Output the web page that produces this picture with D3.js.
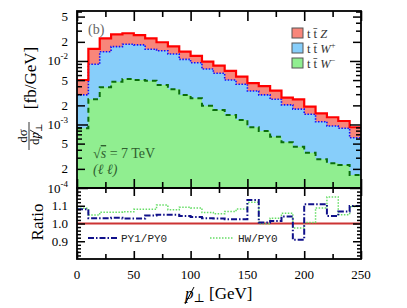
<!DOCTYPE html>
<html><head><meta charset="utf-8">
<script src="https://cdn.jsdelivr.net/npm/d3@7"></script>
<style>body{margin:0;background:#fff}svg{display:block}svg text{font-family:"Liberation Serif","DejaVu Serif",serif !important;fill:#000}svg text.mono{font-family:"Liberation Mono",monospace !important}</style>
</head><body><svg id="c" width="407" height="308"></svg>
<script>
// ---- data ----
const binLow = [0,10,20,30,40,50,60,70,80,90,100,110,120,130,140,150,160,170,180,190,200,210,220,230,240];
const binHigh = 250;
const ttZ  = [2.10e-3,6.58e-3,8.75e-3,9.5e-3,9.0e-3,7.7e-3,7.45e-3,5.2e-3,4.1e-3,3.4e-3,2.61e-3,2.27e-3,2.04e-3,1.95e-3,1.36e-3,1.09e-3,1.11e-3,0.91e-3,0.61e-3,0.74e-3,0.46e-3,0.39e-3,0.354e-3,0.264e-3,0.285e-3];
const ttWp = [2.05e-3,6.38e-3,10.15e-3,12.08e-3,13.09e-3,12.88e-3,10.41e-3,10.31e-3,9.3e-3,7.68e-3,6.80e-3,5.50e-3,4.70e-3,3.61e-3,3.12e-3,2.47e-3,2.13e-3,1.85e-3,1.51e-3,1.30e-3,1.09e-3,0.824e-3,0.701e-3,0.641e-3,0.459e-3];
const ttWm = [0.871e-3,2.49e-3,3.85e-3,4.72e-3,5.21e-3,5.02e-3,4.89e-3,4.19e-3,3.60e-3,2.92e-3,2.59e-3,1.98e-3,1.69e-3,1.41e-3,1.18e-3,0.904e-3,0.791e-3,0.643e-3,0.525e-3,0.446e-3,0.360e-3,0.283e-3,0.245e-3,0.230e-3,0.160e-3];
const ratioPY1 = [1.080,1.030,1.030,1.032,1.028,1.028,1.045,1.050,1.050,1.042,1.036,1.030,1.028,1.024,1.024,1.132,1.005,1.014,1.040,0.908,1.108,1.108,1.042,1.068,1.098];
const ratioHW  = [1.086,1.048,1.064,1.064,1.066,1.080,1.080,1.104,1.078,1.092,1.088,1.062,1.055,1.068,1.082,1.120,0.998,1.030,1.058,0.974,1.006,1.088,1.150,1.050,1.096];
const xTickValues = [0,50,100,150,200,250];
const xTickLabels = ["0","50","100","150","200","250"];
const yTickValues = [5e-2,2e-2,1e-2,5e-3,2e-3,1e-3,5e-4,2e-4,1e-4];
const yTickLabels = ["5","2","10^-2","5","2","10^-3","5","2","10^-4"];
const rTickValues = [0.9,1.0,1.1];
const rTickLabels = ["0.9","1.0","1.1"];
const legendNames = [["t t\u0304 ","Z",""],["t t\u0304 ","W","+"],["t t\u0304 ","W","\u2212"]];
const colors = {Z:"#f8867a", Wp:"#87cefa", Wm:"#90ee90"};

// ---- layout ----
const L=77, R=361, T=11, M=188, B=259;
const SERIF = "'Liberation Serif','DejaVu Serif',serif";
const svg = d3.select("#c");
const x = d3.scaleLinear().domain([0,250]).range([L,R]);
const y = d3.scaleLog().domain([1e-4,0.0612]).range([M,T]);
const yr = d3.scaleLinear().domain([0.8,1.2]).range([B,M]);

const cumWm = ttWm.slice();
const cumWp = ttWm.map((v,i)=>v+ttWp[i]);
const cumTot = cumWp.map((v,i)=>v+ttZ[i]);
const pts = arr => binLow.map((b,i)=>[b,arr[i]]).concat([[binHigh,arr[arr.length-1]]]);

svg.append("clipPath").attr("id","cp1").append("rect").attr("x",L).attr("y",T).attr("width",R-L).attr("height",M-T);
svg.append("clipPath").attr("id","cp2").append("rect").attr("x",L).attr("y",M).attr("width",R-L).attr("height",B-M);

const gTop = svg.append("g").attr("clip-path","url(#cp1)");
const area = d3.area().x(d=>x(d[0])).y0(M).y1(d=>y(d[1])).curve(d3.curveStepAfter);
const line = d3.line().x(d=>x(d[0])).y(d=>y(d[1])).curve(d3.curveStepAfter);
gTop.append("path").attr("d",area(pts(cumTot))).attr("fill",colors.Z);
gTop.append("path").attr("d",area(pts(cumWp))).attr("fill",colors.Wp);
gTop.append("path").attr("d",area(pts(cumWm))).attr("fill",colors.Wm);
gTop.append("path").attr("d",line(pts(cumWm))).attr("fill","none").attr("stroke","#0a6e0a").attr("stroke-width",2).attr("stroke-dasharray","5,4");
gTop.append("path").attr("d",line(pts(cumWp))).attr("fill","none").attr("stroke","#1010ff").attr("stroke-width",1.6).attr("stroke-dasharray","1.5,1.5");
gTop.append("path").attr("d",line(pts(cumTot))).attr("fill","none").attr("stroke","#ff0000").attr("stroke-width",2.2);

// ratio panel
const gR = svg.append("g").attr("clip-path","url(#cp2)");
const rline = d3.line().x(d=>x(d[0])).y(d=>yr(d[1])).curve(d3.curveStepAfter);
gR.append("line").attr("x1",L).attr("x2",R).attr("y1",yr(1)).attr("y2",yr(1)).attr("stroke","#cc3333").attr("stroke-width",1.8);
gR.append("path").attr("d",rline(pts(ratioHW))).attr("fill","none").attr("stroke","#66dd66").attr("stroke-width",1.5).attr("stroke-dasharray","1.5,1.5");
gR.append("path").attr("d",rline(pts(ratioPY1))).attr("fill","none").attr("stroke","#10108a").attr("stroke-width",2).attr("stroke-dasharray","6,2,1.5,2");

// ---- axes (ticks inward) ----
const xMinor = [25,75,125,175,225];
function xTicks(yPos, size, vals, axisFn){
  const g = svg.append("g").attr("transform",`translate(0,${yPos})`)
    .call(axisFn(x).tickValues(vals).tickSize(size).tickFormat(""));
  g.select(".domain").remove();
  g.selectAll("line").attr("stroke","#000").attr("stroke-width",1.6);
}
xTicks(T,-10,xTickValues,d3.axisTop);
xTicks(T,-6,xMinor,d3.axisTop);
xTicks(M,-9,xTickValues,d3.axisBottom);
xTicks(M,-6,xMinor,d3.axisBottom);
xTicks(M,-8,xTickValues,d3.axisTop);
xTicks(M,-5,xMinor,d3.axisTop);
xTicks(B,-8,xTickValues,d3.axisBottom);
xTicks(B,-5,xMinor,d3.axisBottom);

// log y ticks
const logMajor=[], logMid=[], logMinor=[];
[-4,-3,-2].forEach(n=>{ for(let k=1;k<=9;k++){ const v=k*Math.pow(10,n); if(v<=0.0612){ if(k===1) logMajor.push(v); else if(k===2||k===5) logMid.push(v); else logMinor.push(v);} }});
function yTicks(scale, vals, size, left){
  const pos = left?L:R;
  const fn = left?d3.axisLeft:d3.axisRight;
  const g = svg.append("g").attr("transform",`translate(${pos},0)`)
    .call(fn(scale).tickValues(vals).tickSize(-size).tickFormat(""));
  g.select(".domain").remove();
  g.selectAll("line").attr("stroke","#000").attr("stroke-width",1.5);
}
[true,false].forEach(lf=>{
  yTicks(y,logMajor,11,lf); yTicks(y,logMid,8,lf); yTicks(y,logMinor,5,lf);
  yTicks(yr,[0.9,1.0,1.1],8,lf);
  yTicks(yr,[0.82,0.84,0.86,0.88,0.92,0.94,0.96,0.98,1.02,1.04,1.06,1.08,1.12,1.14,1.16,1.18],4,lf);
});

// frames
svg.append("rect").attr("x",L).attr("y",T).attr("width",R-L).attr("height",M-T).attr("fill","none").attr("stroke","#000").attr("stroke-width",1.8);
svg.append("rect").attr("x",L).attr("y",M).attr("width",R-L).attr("height",B-M).attr("fill","none").attr("stroke","#000").attr("stroke-width",1.8);

function txt(sel){ return sel.append("text").style("font-family",SERIF); }

// tick labels
xTickValues.forEach((v,i)=>{
  txt(svg).attr("x",x(v)).attr("y",279).attr("text-anchor","middle").attr("font-size",13).text(xTickLabels[i]);
});
yTickValues.forEach((v,i)=>{
  const lab = yTickLabels[i];
  const t = txt(svg).attr("x",68).attr("y",y(v)+4.5).attr("text-anchor","end").attr("font-size",13);
  if(lab.startsWith("10^")){
    t.append("tspan").text("10");
    t.append("tspan").attr("dy",-6).attr("font-size",9).text(lab.slice(3));
  } else t.text(lab);
});
rTickValues.forEach((v,i)=>{
  txt(svg).attr("x",68).attr("y",yr(v)+4.5).attr("text-anchor","end").attr("font-size",13).text(rTickLabels[i]);
});

// axis titles
txt(svg).attr("transform","translate(43,222) rotate(-90)").attr("text-anchor","middle").attr("font-size",17).text("Ratio");
// y title (rotated group)
const yl = svg.append("g").attr("transform","translate(0,136) rotate(-90)");
txt(yl).attr("x",0).attr("y",27).attr("text-anchor","middle").attr("font-size",13).text("d\u03c3");
yl.append("line").attr("x1",-14).attr("x2",14).attr("y1",29).attr("y2",29).attr("stroke","#000").attr("stroke-width",0.8);
const den = txt(yl).attr("x",-9).attr("y",39).attr("font-size",13);
den.append("tspan").text("d");
den.append("tspan").attr("font-style","italic").text("p");
den.append("tspan").attr("dy",2.5).attr("font-size",9).text("\u22a5");
yl.append("line").attr("x1",-1).attr("x2",6).attr("y1",42).attr("y2",30).attr("stroke","#000").attr("stroke-width",0.8);
txt(yl).attr("x",58).attr("y",36).attr("text-anchor","middle").attr("font-size",17).text("[fb/GeV]");

// x title
const xl = txt(svg).attr("x",185).attr("y",299).attr("font-size",17);
xl.append("tspan").attr("font-style","italic").text("p");
xl.append("tspan").attr("dy",3).attr("font-size",12).text("\u22a5");
xl.append("tspan").attr("dy",-3).text(" [GeV]");
svg.append("line").attr("x1",185).attr("x2",194).attr("y1",304).attr("y2",287).attr("stroke","#000").attr("stroke-width",1);

// annotations
txt(svg).attr("x",88).attr("y",34).attr("font-size",14).style("fill","#666").text("(b)");
const sq = txt(svg).attr("x",93).attr("y",158).attr("font-size",14).style("fill","#2f5f2f");
sq.append("tspan").text("\u221a");
sq.append("tspan").attr("font-style","italic").attr("text-decoration","overline").text("s");
sq.append("tspan").text(" = 7 TeV");
txt(svg).attr("x",93).attr("y",174).attr("font-size",14).attr("font-style","italic").style("fill","#2f5f2f").text("(\u2113 \u2113)");

// top legend
const lgCols=[colors.Z,colors.Wp,colors.Wm];
legendNames.forEach((nm,i)=>{
  const yy = 28 + i*15;
  svg.append("rect").attr("x",292).attr("y",yy).attr("width",11).attr("height",10).attr("fill",lgCols[i]).attr("stroke","#555").attr("stroke-width",1);
  const t = txt(svg).attr("x",307).attr("y",yy+9.5).attr("font-size",12.5).style("fill","#333");
  t.append("tspan").text(nm[0]);
  t.append("tspan").attr("font-style","italic").text(nm[1]);
  if(nm[2]) t.append("tspan").attr("dy",-5).attr("font-size",8.5).text(nm[2]);
});

// ratio legend
svg.append("line").attr("x1",88).attr("x2",117).attr("y1",238).attr("y2",238).attr("stroke","#10108a").attr("stroke-width",2).attr("stroke-dasharray","6,2,1.5,2");
svg.append("text").attr("class","mono").attr("x",121).attr("y",242).attr("font-size",11).style("fill","#222").text("PY1/PY0");
svg.append("line").attr("x1",210).attr("x2",233).attr("y1",238).attr("y2",238).attr("stroke","#66dd66").attr("stroke-width",1.5).attr("stroke-dasharray","1.5,1.5");
svg.append("text").attr("class","mono").attr("x",238).attr("y",242).attr("font-size",11).style("fill","#222").text("HW/PY0");
</script></body></html>
